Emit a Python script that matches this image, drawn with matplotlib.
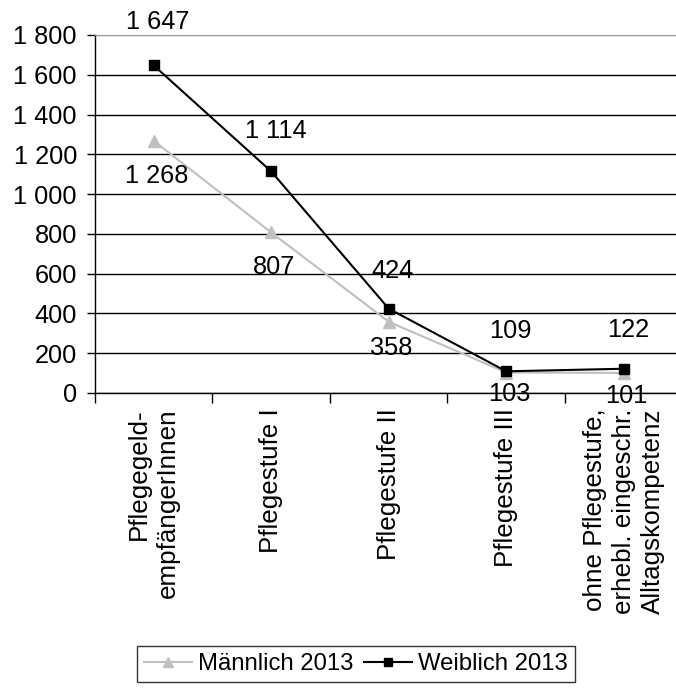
import numpy as np
import matplotlib
matplotlib.use('Agg')
import matplotlib.pyplot as plt
from matplotlib.ticker import FuncFormatter

plt.rcParams['font.family'] = ['Liberation Sans', 'DejaVu Sans']

# Daten
kategorien = ['Pflegegeld-\nempfängerInnen', 'Pflegestufe I', 'Pflegestufe II',
              'Pflegestufe III', 'ohne Pflegestufe,\nerhebl. eingeschr.\nAlltagskompetenz']
maennlich = [1268, 807, 358, 103, 101]
weiblich = [1647, 1114, 424, 109, 122]

# Abstand der Beschriftungen (Pixel)
off_m = [-35, -35, -26, -21, -23]
off_w = [43, 40, 38, 40, 39]

fs = 18.3

fig = plt.figure(figsize=(6.76, 6.88), dpi=100)
ax = fig.add_axes([95 / 676, 295 / 688, 1 - 95 / 676, 358 / 688])

x = np.arange(len(kategorien))
ax.plot(x, maennlich, color='#c0c0c0', lw=1.5, marker='^', ms=9,
        label='Männlich 2013', zorder=3)
ax.plot(x, weiblich, color='black', lw=1.5, marker='s', ms=7.5,
        label='Weiblich 2013', zorder=4)

def fmt(v):
    return f'{v:,}'.replace(',', ' ')

for i in range(len(x)):
    ax.annotate(fmt(maennlich[i]), (x[i], maennlich[i]), xytext=(2, off_m[i] * 0.72),
                textcoords='offset points', ha='center', va='center', fontsize=fs, zorder=5)
    ax.annotate(fmt(weiblich[i]), (x[i], weiblich[i]), xytext=(3, off_w[i] * 0.72),
                textcoords='offset points', ha='center', va='center', fontsize=fs, zorder=5)

ax.set_xlim(-0.5, 4.445)
ax.set_ylim(0, 1800)
ax.set_yticks(np.arange(0, 1801, 200))
ax.yaxis.set_major_formatter(FuncFormatter(lambda v, p: fmt(int(v))))
ax.tick_params(axis='y', direction='out', length=6, width=1, pad=7, labelsize=fs)

ax.set_xticks(x)
ax.set_xticklabels(kategorien, rotation=90, fontsize=18.7, va='top', ha='center',
                   multialignment='right', linespacing=1.25)
ax.tick_params(axis='x', length=0, pad=11)
ax.set_xticks(np.arange(-0.5, 4.5, 1), minor=True)
ax.tick_params(axis='x', which='minor', direction='out', length=7, width=1)

ax.grid(axis='y', color='black', lw=1)
ax.get_ygridlines()[-1].set_color('#999999')
ax.set_axisbelow(True)

ax.spines['right'].set_visible(False)
ax.spines['top'].set_color('#999999')
ax.spines['left'].set_linewidth(1)
ax.spines['bottom'].set_linewidth(1)

leg = fig.legend(loc='upper center', bbox_to_anchor=(356 / 676, 42 / 688), ncol=2,
                 fontsize=17.2, frameon=True, fancybox=False, edgecolor='black',
                 handlelength=2.0, handletextpad=0.25, columnspacing=0.45,
                 borderpad=0.3, borderaxespad=0, markerscale=0.85)
leg.get_frame().set_linewidth(1)

fig.savefig('out.png', dpi=100)
